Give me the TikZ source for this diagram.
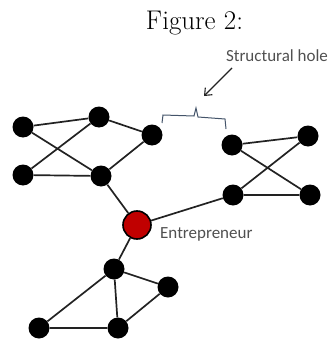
\documentclass[tikz,border=0pt]{standalone}
\usepackage{fontspec}
\newfontfamily\calib{Carlito}
\usetikzlibrary{arrows.meta}
\definecolor{edgec}{HTML}{222222}
\definecolor{bracec}{HTML}{44546A}
\definecolor{redc}{HTML}{C00000}
\definecolor{labc}{HTML}{505050}
\tikzset{
  bnode/.style={circle,fill=black,draw=none,minimum size=21pt,inner sep=0pt},
  rnode/.style={circle,fill=redc,draw=black,line width=1.6pt,minimum size=28pt,inner sep=0pt},
  link/.style={draw=edgec,line width=1.7pt},
  lab/.style={font=\calib\fontsize{17}{20}\selectfont,text=labc,inner sep=0pt},
}
\begin{document}
\begin{tikzpicture}[x=1pt,y=-1pt]
\useasboundingbox (0,0) rectangle (333,340);
\node[anchor=base,inner sep=0pt,font=\fontsize{27}{32}\selectfont] (title) at (194.5,29) {Figure 2:};
\node[lab,anchor=base] (sh) at (277,61) {Structural hole};
% nodes
\node[bnode] (A) at (23,127) {};
\node[bnode] (B) at (99,117) {};
\node[bnode] (C) at (152,135) {};
\node[bnode] (D) at (23,175) {};
\node[bnode] (E) at (101,176) {};
\node[rnode] (F) at (137,225) {};
\node[bnode] (G) at (232,145) {};
\node[bnode] (H) at (308,136) {};
\node[bnode] (I) at (233,195) {};
\node[bnode] (J) at (310,195) {};
\node[bnode] (K) at (114,269) {};
\node[bnode] (L) at (168,287) {};
\node[bnode] (M) at (39,328) {};
\node[bnode] (N) at (118,328) {};
\node[lab,anchor=base west] (ent) at (160,238.5) {Entrepreneur};
% edges
\path[link] (A) -- (B) (A) -- (E) (B) -- (D) (D) -- (E) (B) -- (C) (C) -- (E) (E) -- (F) (F) -- (I)
  (G) -- (H) (G) -- (J) (H) -- (I) (I) -- (J)
  (F) -- (K) (K) -- (L) (K) -- (M) (K) -- (N) (L) -- (N) (M) -- (N);
% structural hole brace and arrow
\coordinate (ar1) at (232,68);
\coordinate (ar2) at (204,96);
\draw[line width=1.1pt,draw=edgec,-{Straight Barb[length=6pt,width=10pt]}] (ar1) -- (ar2);
\coordinate (b1) at (162,123);
\coordinate (b2) at (226,129);
\draw[draw=bracec,line width=1pt] (b1) -- (163,115) -- (194,116) -- (196,108) -- (198,117) -- (225,119) -- (b2);
\end{tikzpicture}
\end{document}
